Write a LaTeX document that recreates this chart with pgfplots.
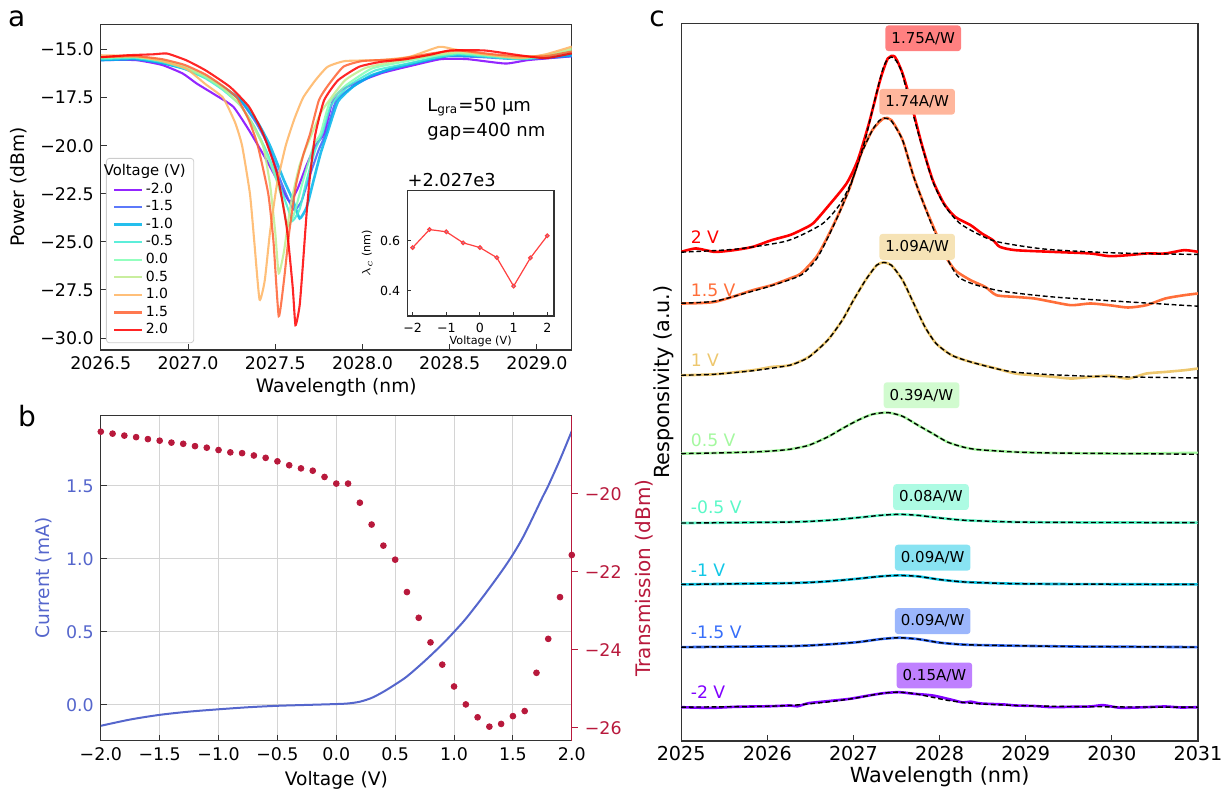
\documentclass[border=0pt]{standalone}
\usepackage{fontspec}
\setmainfont{DejaVu Sans}
\usepackage{pgfplots}
\pgfplotsset{compat=1.18}
% rainbow colours, panel a (9 steps)
\definecolor{am20}{HTML}{8000FF}
\definecolor{am15}{HTML}{4062FA}
\definecolor{am10}{HTML}{00B4EB}
\definecolor{am05}{HTML}{40ECD4}
\definecolor{a00}{HTML}{80FFB4}
\definecolor{a05}{HTML}{C0EC8E}
\definecolor{a10}{HTML}{FFB462}
\definecolor{a15}{HTML}{FF6232}
\definecolor{a20}{HTML}{FF0000}
% rainbow colours, panel c (8 steps)
\definecolor{cm20}{HTML}{8000FF}
\definecolor{cm15}{HTML}{376EF9}
\definecolor{cm10}{HTML}{12C7E6}
\definecolor{cm05}{HTML}{5BF8C7}
\definecolor{c05}{HTML}{A4F89F}
\definecolor{c10}{HTML}{EDC76E}
\definecolor{c15}{HTML}{FF6E39}
\definecolor{c20}{HTML}{FF0000}
\definecolor{bblue}{HTML}{5566CC}
\definecolor{bred}{HTML}{B8193C}
\definecolor{gridc}{HTML}{D4D4D4}
\pgfplotsset{
 mpl/.style={scale only axis, anchor=south west, tick align=inside,
   major tick length=3pt, axis line style={line width=0.6pt, draw=black!80},
   every tick/.style={black!80, line width=0.5pt},
   ticklabel style={font=\fontsize{8.7}{10}\selectfont},
   label style={font=\fontsize{9.3}{11}\selectfont}},
 aline/.style={line width=1.05pt, draw opacity=0.85, smooth, tension=0.3},
 fitline/.style={black, line width=0.7pt, dash pattern=on 2.4pt off 1.4pt, smooth, tension=0.4},
 dline/.style={line width=1.3pt, smooth, tension=0.4}
}
\tikzset{
 rbox/.style={rounded corners=1.5pt, inner xsep=3pt, minimum height=11.5pt, font=\fontsize{7.5}{8}\selectfont},
 vlab/.style={anchor=west, font=\fontsize{8.6}{9}\selectfont}
}
\begin{document}
\begin{tikzpicture}
\path[use as bounding box] (0pt,0pt) rectangle (614pt,-396.5pt);
\node[font=\fontsize{14}{14}\selectfont] at (8.3pt,-9.5pt) {a};
\node[font=\fontsize{14}{14}\selectfont] at (13.5pt,-208pt) {b};
\node[font=\fontsize{14}{14}\selectfont] at (328.5pt,-9.5pt) {c};

% ---------------- panel a
\begin{axis}[mpl, tick pos=left, at={(50.4pt,-175pt)}, width=235.5pt, height=162.85pt,
 xmin=2026.5, xmax=2029.2, ymin=-30.62, ymax=-13.69,
 xtick={2026.5,2027,2027.5,2028,2028.5,2029},
 xticklabels={2026.5,2027.0,2027.5,2028.0,2028.5,2029.0},
 ytick={-30,-27.5,-25,-22.5,-20,-17.5,-15},
 yticklabels={−30.0,−27.5,−25.0,−22.5,−20.0,−17.5,−15.0},
 xlabel={Wavelength (nm)}, ylabel={Power (dBm)}, xlabel style={yshift=3pt},
 legend style={at={(0.011,0.021)}, anchor=south west, font=\fontsize{7}{8}\selectfont,
   draw=black!20, rounded corners=1.5pt, fill=white, fill opacity=0.85, text opacity=1,
   nodes={inner sep=1.05pt}, row sep=0pt, inner xsep=3pt},
 legend cell align=left,
 legend image code/.code={\draw[#1] (1pt,0pt) -- (15pt,0pt);}]
\addlegendimage{empty legend}
\addlegendentry{\hspace{-21pt}\fontsize{7.4}{8}\selectfont Voltage (V)}
\addplot[aline, am20] coordinates {(2026.50,-15.55)(2026.70,-15.55)(2026.85,-15.80)(2026.97,-16.25)(2027.05,-16.77)(2027.16,-17.38)(2027.26,-17.98)(2027.35,-19.20)(2027.45,-20.75)(2027.53,-22.10)(2027.584,-22.92)(2027.63,-22.20)(2027.68,-21.00)(2027.73,-20.00)(2027.78,-19.37)(2027.83,-17.64)(2027.88,-17.10)(2027.97,-16.70)(2028.12,-16.20)(2028.30,-15.80)(2028.45,-15.50)(2028.60,-15.50)(2028.82,-15.73)(2028.95,-15.55)(2029.20,-15.35)};
\addlegendentry{-2.0}
\addplot[aline, am15] coordinates {(2026.50,-15.55)(2026.70,-15.50)(2026.85,-15.70)(2026.98,-16.00)(2027.10,-16.45)(2027.20,-16.95)(2027.30,-17.65)(2027.39,-18.80)(2027.46,-20.00)(2027.53,-21.80)(2027.58,-22.90)(2027.61,-23.35)(2027.65,-22.90)(2027.70,-21.50)(2027.75,-20.20)(2027.79,-19.37)(2027.85,-17.64)(2027.95,-16.90)(2028.05,-16.40)(2028.19,-15.90)(2028.37,-15.55)(2028.50,-15.35)(2028.69,-15.40)(2028.88,-15.50)(2029.05,-15.45)(2029.20,-15.35)};
\addlegendentry{-1.5}
\addplot[aline, am10, line width=1.3pt] coordinates {(2026.50,-15.55)(2026.70,-15.50)(2026.85,-15.70)(2026.98,-16.00)(2027.10,-16.45)(2027.20,-16.95)(2027.30,-17.60)(2027.40,-18.80)(2027.47,-20.00)(2027.55,-21.80)(2027.60,-22.80)(2027.64,-23.78)(2027.68,-23.20)(2027.72,-21.80)(2027.76,-20.40)(2027.80,-19.30)(2027.86,-17.70)(2027.95,-16.90)(2028.05,-16.35)(2028.19,-15.95)(2028.37,-15.56)(2028.50,-15.30)(2028.69,-15.35)(2028.88,-15.47)(2029.05,-15.40)(2029.20,-15.30)};
\addlegendentry{-1.0}
\addplot[aline, am05] coordinates {(2026.50,-15.50)(2026.70,-15.45)(2026.85,-15.65)(2026.98,-16.00)(2027.10,-16.50)(2027.20,-17.10)(2027.30,-17.90)(2027.38,-19.00)(2027.45,-20.30)(2027.52,-21.90)(2027.57,-23.20)(2027.60,-23.90)(2027.64,-23.30)(2027.68,-21.80)(2027.73,-20.20)(2027.77,-19.37)(2027.82,-17.90)(2027.92,-16.90)(2028.07,-16.10)(2028.25,-15.75)(2028.40,-15.45)(2028.55,-15.25)(2028.75,-15.40)(2028.90,-15.50)(2029.05,-15.40)(2029.20,-15.15)};
\addlegendentry{-0.5}
\addplot[aline, a00] coordinates {(2026.50,-15.45)(2026.70,-15.40)(2026.85,-15.60)(2026.98,-15.95)(2027.10,-16.45)(2027.20,-17.05)(2027.30,-17.90)(2027.37,-18.90)(2027.43,-20.00)(2027.50,-21.60)(2027.54,-22.80)(2027.57,-24.20)(2027.61,-23.50)(2027.66,-21.80)(2027.72,-20.00)(2027.76,-19.37)(2027.81,-17.80)(2027.90,-16.90)(2028.05,-16.00)(2028.20,-15.70)(2028.40,-15.35)(2028.55,-15.20)(2028.75,-15.35)(2028.90,-15.45)(2029.05,-15.35)(2029.20,-15.05)};
\addlegendentry{0.0}
\addplot[aline, a05] coordinates {(2026.50,-15.40)(2026.70,-15.40)(2026.85,-15.55)(2026.98,-15.90)(2027.10,-16.40)(2027.20,-17.00)(2027.30,-17.90)(2027.37,-18.90)(2027.43,-20.00)(2027.47,-22.00)(2027.50,-24.50)(2027.52,-26.64)(2027.55,-25.50)(2027.59,-23.00)(2027.64,-21.00)(2027.70,-19.60)(2027.76,-18.30)(2027.81,-17.64)(2027.90,-16.60)(2028.02,-15.95)(2028.20,-15.60)(2028.40,-15.30)(2028.55,-15.15)(2028.75,-15.30)(2028.90,-15.40)(2029.05,-15.30)(2029.20,-14.95)};
\addlegendentry{0.5}
\addplot[aline, a10] coordinates {(2026.50,-15.30)(2026.70,-15.35)(2026.85,-15.60)(2026.99,-16.00)(2027.10,-16.80)(2027.20,-17.50)(2027.27,-18.80)(2027.31,-20.00)(2027.355,-22.50)(2027.38,-25.00)(2027.41,-28.00)(2027.44,-27.00)(2027.47,-24.50)(2027.51,-22.00)(2027.56,-20.00)(2027.61,-18.60)(2027.66,-17.50)(2027.73,-16.60)(2027.80,-15.90)(2027.90,-15.60)(2028.10,-15.55)(2028.27,-15.38)(2028.44,-14.86)(2028.53,-15.00)(2028.70,-15.25)(2028.90,-15.45)(2029.05,-15.25)(2029.20,-14.85)};
\addlegendentry{1.0}
\addplot[aline, a15] coordinates {(2026.50,-15.40)(2026.70,-15.35)(2026.85,-15.50)(2026.98,-15.80)(2027.10,-16.30)(2027.20,-16.90)(2027.28,-17.50)(2027.35,-18.70)(2027.40,-20.00)(2027.46,-22.50)(2027.49,-25.00)(2027.52,-28.86)(2027.55,-27.00)(2027.58,-24.50)(2027.62,-22.00)(2027.66,-20.50)(2027.70,-19.37)(2027.75,-17.64)(2027.80,-16.90)(2027.89,-15.90)(2028.00,-15.60)(2028.20,-15.50)(2028.40,-15.20)(2028.55,-15.05)(2028.75,-15.25)(2028.90,-15.35)(2029.05,-15.35)(2029.20,-15.10)};
\addlegendentry{1.5}
\addplot[aline, a20] coordinates {(2026.50,-15.40)(2026.65,-15.30)(2026.80,-15.25)(2026.88,-15.21)(2026.99,-15.56)(2027.10,-16.08)(2027.24,-16.94)(2027.35,-17.98)(2027.43,-19.37)(2027.51,-21.45)(2027.565,-24.20)(2027.60,-27.34)(2027.616,-29.33)(2027.64,-28.30)(2027.66,-26.00)(2027.68,-23.50)(2027.70,-21.50)(2027.73,-19.40)(2027.78,-17.64)(2027.86,-16.60)(2027.98,-15.90)(2028.10,-15.65)(2028.25,-15.50)(2028.40,-15.25)(2028.50,-15.05)(2028.70,-15.05)(2028.90,-15.30)(2029.05,-15.45)(2029.20,-15.20)};
\addlegendentry{2.0}
\end{axis}
\node[anchor=west, font=\fontsize{9}{10}\selectfont, inner sep=0pt] at (213.5pt,-53.5pt) {L\textsubscript{gra}=50 µm};
\node[anchor=west, font=\fontsize{9}{10}\selectfont, inner sep=0pt] at (213.5pt,-66pt) {gap=400 nm};

% inset
\begin{axis}[mpl, tick pos=left, at={(203.65pt,-158pt)}, width=73.35pt, height=62.65pt,
 axis background/.style={fill=white},
 xmin=-2.16, xmax=2.2, ymin=0.3, ymax=0.8,
 xtick={-2,-1,0,1,2}, xticklabels={−2,−1,0,1,2},
 ytick={0.4,0.6}, yticklabels={0.4,0.6}, major tick length=2pt,
 ticklabel style={font=\fontsize{6.3}{7}\selectfont},
 xlabel={Voltage (V)}, ylabel={$\lambda_c$ (nm)},
 label style={font=\fontsize{5.6}{6}\selectfont},
 xlabel style={yshift=5pt}, ylabel style={yshift=-3pt}]
\addplot[color=red!75!white, line width=0.6pt, mark=*, mark size=0.9pt,
 mark options={draw=none, fill=cyan!40!blue!45!white}] coordinates {
 (-2,0.573) (-1.5,0.645) (-1,0.636) (-0.5,0.592) (0,0.573) (0.5,0.533) (1,0.419) (1.5,0.532) (2,0.620)};
\end{axis}
\node[anchor=south west, font=\fontsize{8.9}{10}\selectfont, inner sep=0pt] at (203.6pt,-93.6pt) {+2.027e3};

% ---------------- panel b
\begin{axis}[mpl, tick pos=left, at={(50.4pt,-370.35pt)}, width=235.5pt, height=162.5pt,
 xmin=-2, xmax=2, ymin=-0.245, ymax=1.98,
 xtick={-2,-1.5,-1,-0.5,0,0.5,1,1.5,2},
 xticklabels={−2.0,−1.5,−1.0,−0.5,0.0,0.5,1.0,1.5,2.0},
 ytick={0,0.5,1,1.5}, yticklabels={0.0,0.5,1.0,1.5},
 grid=major, grid style={draw=gridc, line width=0.5pt},
 yticklabel style={text=bblue}, ylabel style={text=bblue},
 xlabel={Voltage (V)}, ylabel={Current (mA)}, xlabel style={yshift=1.5pt}]
\addplot[color=bblue, line width=1pt, smooth, tension=0.5] coordinates {
 (-2.0,-0.143) (-1.75,-0.100) (-1.5,-0.068) (-1.25,-0.046) (-1.0,-0.030) (-0.75,-0.016)
 (-0.5,-0.006) (-0.25,0.000) (0.0,0.006) (0.1,0.010) (0.2,0.022) (0.3,0.048) (0.4,0.090)
 (0.5,0.140) (0.6,0.195) (0.75,0.300) (0.9,0.415) (1.0,0.500) (1.1,0.590) (1.25,0.745)
 (1.4,0.910) (1.5,1.030) (1.6,1.170) (1.75,1.420) (1.8,1.500) (1.9,1.680) (2.0,1.875)};
\end{axis}
\begin{axis}[mpl, at={(50.4pt,-370.35pt)}, width=235.5pt, height=162.5pt,
 axis x line=none, axis y line*=right, ytick pos=right, yticklabel pos=right,
 ylabel near ticks, tick align=outside,
 xmin=-2, xmax=2, ymin=-26.33, ymax=-18.0,
 ytick={-26,-24,-22,-20}, yticklabels={−26,−24,−22,−20},
 y axis line style={draw=bred}, ytick style={draw=bred},
 yticklabel style={text=bred}, ylabel style={text=bred},
 ylabel={Transmission (dBm)}]
\addplot[only marks, mark=*, mark size=1.45pt, color=bred] coordinates {
 (-2.0,-18.41) (-1.9,-18.46) (-1.8,-18.51) (-1.7,-18.55) (-1.6,-18.60) (-1.5,-18.64)
 (-1.4,-18.69) (-1.3,-18.72) (-1.2,-18.78) (-1.1,-18.82) (-1.0,-18.88) (-0.9,-18.94)
 (-0.8,-18.96) (-0.7,-19.02) (-0.6,-19.08) (-0.5,-19.17) (-0.4,-19.27) (-0.3,-19.35)
 (-0.2,-19.41) (-0.1,-19.57) (0.0,-19.74) (0.1,-19.74) (0.2,-20.23) (0.3,-20.79)
 (0.4,-21.33) (0.5,-21.69) (0.6,-22.52) (0.7,-23.18) (0.8,-23.81) (0.9,-24.38)
 (1.0,-24.94) (1.1,-25.40) (1.2,-25.73) (1.3,-25.97) (1.4,-25.90) (1.5,-25.70)
 (1.6,-25.57) (1.7,-24.59) (1.8,-23.72) (1.9,-22.65) (2.0,-21.57)};
\end{axis}

% ---------------- panel c
\begin{axis}[mpl, tick pos=left, at={(340.6pt,-370.5pt)}, width=258.4pt, height=358.85pt,
 xmin=2025, xmax=2031, ymin=-0.5, ymax=716.7,
 xtick={2025,2026,2027,2028,2029,2030,2031},
 xticklabels={2025,2026,2027,2028,2029,2030,2031},
 ytick=\empty,
 ticklabel style={font=\fontsize{9.6}{11}\selectfont},
 label style={font=\fontsize{10.4}{12}\selectfont},
 xticklabel style={yshift=1pt}, xlabel style={yshift=4pt},
 xlabel={Wavelength (nm)}, ylabel={Responsivity (a.u.)}]
% -2 V
\addplot[dline, cm20] coordinates {(2025.00,33.3)(2025.20,32.8)(2025.39,32.7)(2025.61,33.6)(2025.83,34.0)(2026.05,34.3)(2026.26,35.0)(2026.35,34.2)(2026.48,37.3)(2026.70,39.3)(2026.96,41.7)(2027.18,45.0)(2027.35,47.3)(2027.53,48.3)(2027.70,46.7)(2027.92,45.0)(2028.14,40.7)(2028.27,38.0)(2028.36,38.8)(2028.48,37.0)(2028.75,36.0)(2028.88,35.0)(2029.10,34.5)(2029.31,33.3)(2029.53,33.7)(2029.75,34.0)(2029.90,35.3)(2030.10,32.7)(2030.40,33.3)(2030.62,34.0)(2030.80,33.0)(2031.00,33.3)};
\addplot[fitline] coordinates {(2025.00,33.3)(2025.83,34.0)(2026.26,35.0)(2026.70,38.5)(2027.00,42.0)(2027.22,45.5)(2027.40,47.8)(2027.53,48.3)(2027.70,47.0)(2027.90,43.5)(2028.10,40.0)(2028.40,37.0)(2028.88,35.0)(2029.50,34.0)(2030.20,33.5)(2031.00,33.3)};
% -1.5 V
\addplot[dline, cm15] coordinates {(2025.00,93.3)(2026.26,94.3)(2026.70,96.0)(2027.05,98.3)(2027.31,101.3)(2027.53,102.7)(2027.75,101.3)(2028.01,97.7)(2028.31,95.7)(2028.88,94.7)(2029.60,93.9)(2030.40,93.6)(2031.00,93.3)};
\addplot[fitline] coordinates {(2025.00,93.3)(2026.26,94.3)(2026.70,96.0)(2027.05,98.3)(2027.31,101.3)(2027.53,102.7)(2027.75,101.3)(2028.01,97.7)(2028.31,95.7)(2028.88,94.7)(2029.60,93.9)(2030.40,93.6)(2031.00,93.3)};
% -1 V
\addplot[dline, cm10] coordinates {(2025.00,156.0)(2026.26,157.3)(2026.70,159.0)(2027.05,161.7)(2027.31,164.0)(2027.53,165.0)(2027.75,164.0)(2028.01,160.7)(2028.31,158.3)(2028.88,156.7)(2029.60,156.3)(2030.40,156.1)(2031.00,156.0)};
\addplot[fitline] coordinates {(2025.00,156.0)(2026.26,157.3)(2026.70,159.0)(2027.05,161.7)(2027.31,164.0)(2027.53,165.0)(2027.75,164.0)(2028.01,160.7)(2028.31,158.3)(2028.88,156.7)(2029.60,156.3)(2030.40,156.1)(2031.00,156.0)};
% -0.5 V
\addplot[dline, cm05] coordinates {(2025.00,217.3)(2026.26,218.3)(2026.70,220.0)(2027.05,222.7)(2027.31,225.0)(2027.53,226.0)(2027.75,225.0)(2028.01,222.3)(2028.31,220.0)(2028.88,218.3)(2029.60,217.9)(2030.40,217.8)(2031.00,217.7)};
\addplot[fitline] coordinates {(2025.00,217.3)(2026.26,218.3)(2026.70,220.0)(2027.05,222.7)(2027.31,225.0)(2027.53,226.0)(2027.75,225.0)(2028.01,222.3)(2028.31,220.0)(2028.88,218.3)(2029.60,217.9)(2030.40,217.8)(2031.00,217.7)};
% 0.5 V
\addplot[dline, c05] coordinates {(2025.00,286.7)(2025.39,287.3)(2025.83,288.3)(2026.05,289.3)(2026.26,291.0)(2026.48,295.0)(2026.70,303.3)(2026.87,311.7)(2027.05,320.0)(2027.22,326.0)(2027.40,327.7)(2027.57,324.0)(2027.75,315.0)(2027.92,306.7)(2028.09,298.3)(2028.27,293.3)(2028.44,290.7)(2028.88,288.3)(2029.31,287.3)(2030.19,286.7)(2031.00,287.5)};
\addplot[fitline] coordinates {(2025.00,286.7)(2025.39,287.3)(2025.83,288.3)(2026.05,289.3)(2026.26,291.0)(2026.48,295.0)(2026.70,303.3)(2026.87,311.7)(2027.05,320.0)(2027.22,326.0)(2027.40,327.7)(2027.57,324.0)(2027.75,315.0)(2027.92,306.7)(2028.09,298.3)(2028.27,293.3)(2028.44,290.7)(2028.88,288.3)(2029.31,287.3)(2030.19,286.7)(2031.00,286.0)};
% 1 V
\addplot[dline, c10] coordinates {(2025.00,365.0)(2025.39,366.0)(2025.83,370.0)(2026.05,373.3)(2026.26,375.0)(2026.48,383.3)(2026.70,400.0)(2026.87,420.0)(2027.00,440.0)(2027.14,460.0)(2027.27,475.0)(2027.35,477.7)(2027.44,475.0)(2027.57,460.0)(2027.70,436.7)(2027.83,413.3)(2027.96,396.7)(2028.14,385.0)(2028.36,378.3)(2028.66,371.7)(2028.88,366.7)(2029.10,365.0)(2029.31,363.5)(2029.53,361.7)(2029.75,363.3)(2029.97,364.5)(2030.19,361.7)(2030.40,366.7)(2030.62,368.3)(2030.84,370.0)(2031.00,371.7)};
\addplot[fitline] coordinates {(2025.00,365.0)(2025.39,366.0)(2025.83,369.5)(2026.26,375.0)(2026.48,383.0)(2026.70,400.0)(2026.87,420.0)(2027.00,440.0)(2027.14,460.0)(2027.27,475.0)(2027.35,477.7)(2027.44,475.0)(2027.57,460.0)(2027.70,436.7)(2027.83,413.3)(2027.96,396.7)(2028.14,385.0)(2028.36,378.3)(2028.66,371.5)(2028.88,368.0)(2029.31,365.5)(2029.75,364.0)(2030.40,363.0)(2031.00,362.3)};
% 1.5 V
\addplot[dline, c15] coordinates {(2025.00,436.7)(2025.39,438.3)(2025.83,450.0)(2026.05,455.0)(2026.26,461.7)(2026.39,466.7)(2026.57,483.3)(2026.70,503.3)(2026.83,526.7)(2026.96,553.3)(2027.09,586.7)(2027.22,610.0)(2027.35,621.7)(2027.44,620.0)(2027.57,600.0)(2027.70,563.3)(2027.83,533.3)(2027.96,506.7)(2028.05,486.7)(2028.18,470.0)(2028.36,460.0)(2028.53,453.3)(2028.66,445.0)(2028.88,443.3)(2029.10,441.7)(2029.31,438.3)(2029.53,435.0)(2029.75,436.7)(2029.97,435.0)(2030.19,432.7)(2030.40,435.0)(2030.62,441.7)(2030.84,445.0)(2031.00,446.7)};
\addplot[fitline] coordinates {(2025.00,437.0)(2025.39,439.0)(2025.83,449.0)(2026.05,454.5)(2026.39,465.0)(2026.57,481.0)(2026.70,502.0)(2026.83,526.0)(2026.96,553.0)(2027.09,586.0)(2027.22,610.0)(2027.30,619.5)(2027.36,622.0)(2027.44,619.0)(2027.57,600.0)(2027.70,563.0)(2027.83,533.0)(2027.96,505.0)(2028.22,463.3)(2028.66,450.0)(2029.31,443.3)(2030.19,438.3)(2031.00,434.0)};
% 2 V
\addplot[dline, c20] coordinates {(2025.00,488.3)(2025.17,491.7)(2025.39,488.3)(2025.61,490.0)(2025.83,493.3)(2026.05,500.0)(2026.26,505.0)(2026.39,510.0)(2026.53,516.7)(2026.70,533.3)(2026.92,556.7)(2027.05,580.0)(2027.18,616.7)(2027.31,660.0)(2027.40,681.7)(2027.48,683.3)(2027.57,666.7)(2027.66,640.0)(2027.79,596.7)(2027.92,560.0)(2028.05,536.7)(2028.18,523.3)(2028.36,515.0)(2028.49,506.7)(2028.62,500.0)(2028.70,493.3)(2028.88,490.0)(2029.31,488.3)(2029.75,486.7)(2029.97,484.0)(2030.19,485.0)(2030.40,486.7)(2030.62,486.7)(2030.84,490.0)(2031.00,488.3)};
\addplot[fitline] coordinates {(2025.00,488.0)(2025.63,491.0)(2026.23,499.3)(2026.63,515.8)(2026.83,534.3)(2026.98,558.8)(2027.13,598.4)(2027.23,633.8)(2027.33,667.9)(2027.38,678.8)(2027.44,683.0)(2027.50,678.8)(2027.56,667.9)(2027.66,636.0)(2027.78,598.4)(2027.92,558.8)(2028.06,534.3)(2028.25,515.8)(2028.63,499.3)(2029.23,491.0)(2030.03,487.3)(2031.00,485.7)};
% labels
\node[vlab, text=c20] at (axis cs:2025.03,503) {2 V};
\node[vlab, text=c15] at (axis cs:2025.03,450) {1.5 V};
\node[vlab, text=c10] at (axis cs:2025.03,380) {1 V};
\node[vlab, text=c05] at (axis cs:2025.03,300) {0.5 V};
\node[vlab, text=cm05] at (axis cs:2025.03,233) {-0.5 V};
\node[vlab, text=cm10] at (axis cs:2025.03,170) {-1 V};
\node[vlab, text=cm15] at (axis cs:2025.03,108) {-1.5 V};
\node[vlab, text=cm20] at (axis cs:2025.03,48) {-2 V};
\node[rbox, fill=c20!50] at (axis cs:2027.81,701.7) {1.75A/W};
\node[rbox, fill=c15!50] at (axis cs:2027.74,638.3) {1.74A/W};
\node[rbox, fill=c10!50] at (axis cs:2027.74,493.3) {1.09A/W};
\node[rbox, fill=c05!50] at (axis cs:2027.79,345) {0.39A/W};
\node[rbox, fill=cm05!50] at (axis cs:2027.90,243.3) {0.08A/W};
\node[rbox, fill=cm10!50] at (axis cs:2027.92,182.7) {0.09A/W};
\node[rbox, fill=cm15!50] at (axis cs:2027.92,119.3) {0.09A/W};
\node[rbox, fill=cm20!50] at (axis cs:2027.94,65) {0.15A/W};
\end{axis}
\end{tikzpicture}
\end{document}
